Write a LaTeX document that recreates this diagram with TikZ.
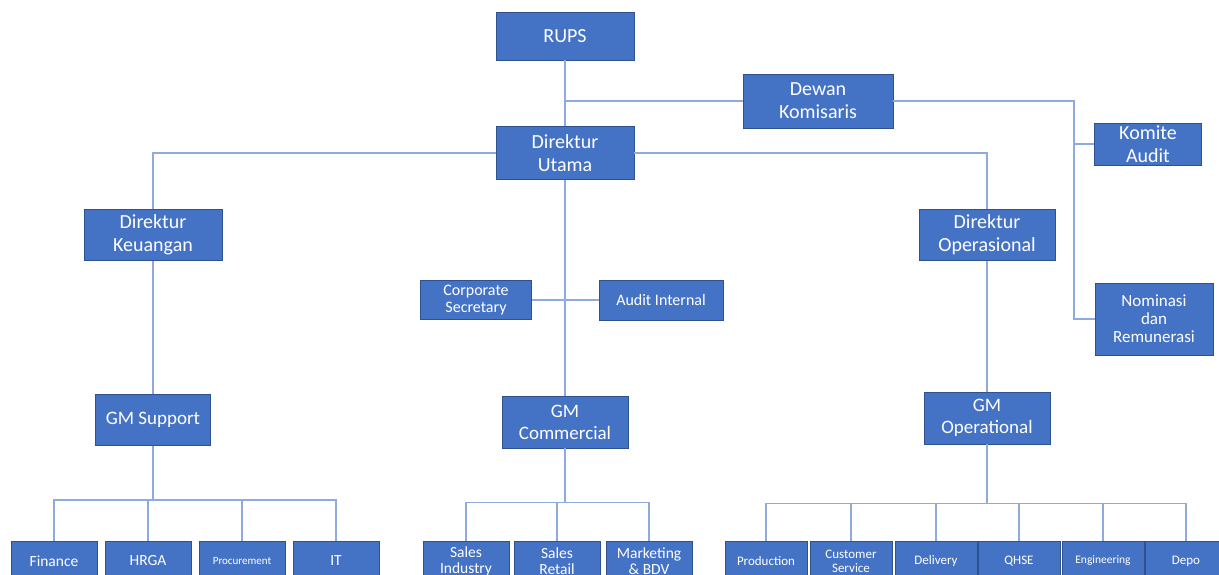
\documentclass[tikz,border=0pt]{standalone}
\usepackage{fontspec}
\setmainfont{Carlito}
\definecolor{unitfill}{RGB}{68,114,196}
\definecolor{unitedge}{RGB}{47,82,143}
\definecolor{linkblue}{RGB}{143,170,220}

\begin{document}
\begin{tikzpicture}[x=1pt,y=-1pt,
    unit/.style={draw=unitedge,fill=unitfill,text=white,align=center,
      inner sep=1pt,line width=0.8pt,font=\fontsize{20}{23}\selectfont},
    small unit/.style={unit,font=\fontsize{16}{17}\selectfont},
    leaf/.style={unit,minimum width=86,minimum height=40,font=\fontsize{15.5}{16}\selectfont},
    tiny leaf/.style={leaf,minimum width=82,font=\fontsize{13}{14}\selectfont},
    link/.style={draw=linkblue,line width=1.2pt}]
 \useasboundingbox (0,0) rectangle (1219,574);
 \clip (0,0) rectangle (1219,574);
 \node[unit,minimum width=138,minimum height=48] (rups) at (565,36) {RUPS};
 \node[unit,minimum width=150,minimum height=54] (dewan) at (818,101) {Dewan\\Komisaris};
 \node[unit,minimum width=138,minimum height=53] (dirut) at (565,153) {Direktur\\Utama};
 \node[unit,minimum width=107,minimum height=42] (komite) at (1148,144) {Komite\\Audit};
 \node[unit,minimum width=118,minimum height=72,font=\fontsize{17}{18}\selectfont] (nomrem) at (1154,319) {Nominasi\\dan\\Remunerasi};
 \node[unit,minimum width=138,minimum height=51] (dirkeu) at (153,235) {Direktur\\Keuangan};
 \node[unit,minimum width=136,minimum height=51] (dirops) at (987,235) {Direktur\\Operasional};
 \node[small unit,minimum width=111,minimum height=39] (corsec) at (476,300) {Corporate\\Secretary};
 \node[small unit,minimum width=124,minimum height=40] (audint) at (661,300) {Audit Internal};
 \node[unit,minimum width=115,minimum height=51,font=\fontsize{19}{22}\selectfont] (gmsup) at (153,420) {GM Support};
 \node[unit,minimum width=126,minimum height=52,font=\fontsize{19}{22}\selectfont] (gmcom) at (565,422) {GM\\Commercial};
 \node[unit,minimum width=126,minimum height=52,font=\fontsize{19}{22}\selectfont] (gmops) at (987,418) {GM\\Operational};
 \foreach \x/\n/\t in {54/fin/Finance,148/hrga/HRGA,336/it/IT}
   \node[leaf] (\n) at (\x,561) {\t};
 \node[leaf,font=\fontsize{11}{12}\selectfont] (proc) at (242,561) {Procurement};
 \node[leaf] (salind) at (466,561) {Sales\\Industry};
 \node[leaf] (salret) at (557,561) {Sales\\Retail};
 \node[leaf] (mktbdv) at (649,561) {Marketing\\\& BDV};
 \foreach \x/\n/\t in {766/prod/Production,851/cusserv/{Customer\\Service},936/deliv/Delivery,1019/qhse/QHSE,1186/depo/Depo}
   \node[tiny leaf] (\n) at (\x,561) {\t};
 \node[tiny leaf,font=\fontsize{11.5}{12}\selectfont] (engin) at (1103,561) {Engineering};
 \coordinate (rail) at (1074,0);
 \draw[link] (rups.south) -- (dirut.north);
 \draw[link] (dewan.west) -- (dewan.west -| rups.south);
 \draw[link] (dewan.east) -| (rail |- nomrem.west) -- (nomrem.west);
 \draw[link] (rail |- komite.west) -- (komite.west);
 \draw[link] (dirut.west) -| (dirkeu.north);
 \draw[link] (dirut.east) -| (dirops.north);
 \draw[link] (dirkeu.south) -- (gmsup.north);
 \draw[link] (dirut.south) -- (gmcom.north);
 \draw[link] (corsec.east) -- (audint.west);
 \draw[link] (dirops.south) -- (gmops.north);
 \foreach \n in {fin,hrga,proc,it}
   \draw[link] (gmsup.south) -- ++(0,54) -| (\n.north);
 \foreach \n in {salind,salret,mktbdv}
   \draw[link] (gmcom.south) -- ++(0,54) -| (\n.north);
 \foreach \n in {prod,cusserv,deliv,qhse,engin,depo}
   \draw[link] (gmops.south) -- ++(0,59) -| (\n.north);
\end{tikzpicture}
\end{document}
